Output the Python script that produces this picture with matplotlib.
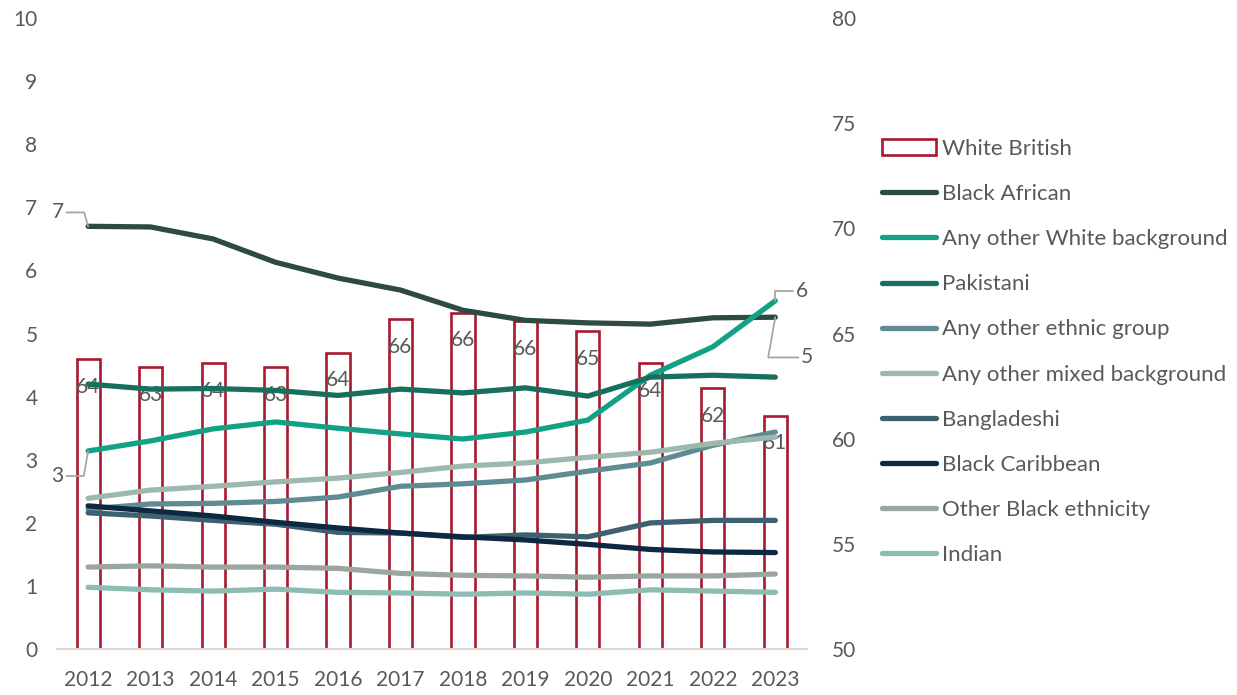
import matplotlib
matplotlib.use("Agg")
import matplotlib.pyplot as plt
from matplotlib.lines import Line2D
from matplotlib.patches import Patch
import numpy as np

plt.rcParams["font.family"] = ["Lato", "DejaVu Sans"]

# =========================
# Data
# =========================
years = ["2012", "2013", "2014", "2015", "2016", "2017",
         "2018", "2019", "2020", "2021", "2022", "2023"]

white_british = [63.8, 63.4, 63.6, 63.4, 64.1, 65.7, 66.0, 65.6, 65.1, 63.6, 62.4, 61.1]

black_african = [6.70, 6.69, 6.50, 6.13, 5.88, 5.69, 5.37, 5.21, 5.17, 5.15, 5.25, 5.26]
other_white = [3.14, 3.30, 3.49, 3.60, 3.50, 3.41, 3.33, 3.44, 3.63, 4.34, 4.79, 5.52]
pakistani = [4.20, 4.12, 4.13, 4.10, 4.02, 4.12, 4.06, 4.14, 4.01, 4.31, 4.34, 4.31]
other_ethnic = [2.22, 2.30, 2.31, 2.34, 2.41, 2.58, 2.62, 2.68, 2.82, 2.95, 3.23, 3.44]
other_mixed = [2.39, 2.52, 2.58, 2.65, 2.71, 2.80, 2.90, 2.95, 3.04, 3.12, 3.26, 3.36]
bangladeshi = [2.16, 2.11, 2.04, 1.98, 1.85, 1.84, 1.77, 1.81, 1.78, 2.00, 2.04, 2.04]
black_caribbean = [2.27, 2.19, 2.11, 2.01, 1.92, 1.84, 1.78, 1.73, 1.66, 1.58, 1.54, 1.53]
other_black = [1.30, 1.32, 1.30, 1.30, 1.28, 1.20, 1.17, 1.16, 1.14, 1.16, 1.16, 1.19]
indian = [0.98, 0.94, 0.92, 0.95, 0.90, 0.89, 0.87, 0.89, 0.87, 0.94, 0.92, 0.90]

series = [
    ("Black African", black_african, "#2F4A43"),
    ("Any other White background", other_white, "#13A186"),
    ("Pakistani", pakistani, "#17705E"),
    ("Any other ethnic group", other_ethnic, "#5F8C93"),
    ("Any other mixed background", other_mixed, "#9DB8AE"),
    ("Bangladeshi", bangladeshi, "#3E6170"),
    ("Black Caribbean", black_caribbean, "#0C2941"),
    ("Other Black ethnicity", other_black, "#9BA6A1"),
    ("Indian", indian, "#8DBDB2"),
]

TEXT = "#595959"
BAR_EDGE = "#A6192E"
LEADER = "#A6A6A6"
FS = 15
LEG_FS = 16

# =========================
# Figure
# =========================
fig = plt.figure(figsize=(12.37, 6.95), dpi=100)
ax = fig.add_axes([0.046, 0.066, 0.606, 0.908])
axb = ax.twinx()

x = np.arange(len(years))

# bars on the secondary (right) scale
axb.bar(x, white_british, width=0.37, facecolor="white", edgecolor=BAR_EDGE,
        linewidth=1.9, zorder=2)
for xi, v in zip(x, white_british):
    axb.annotate(f"{v:.0f}", (xi, v), xytext=(0, -20), textcoords="offset points",
                 ha="center", va="center", fontsize=FS, color=TEXT, zorder=3)
axb.set_ylim(50, 80)
axb.set_yticks(np.arange(50, 81, 5))

# lines on the primary (left) scale, drawn above the bars
ax.set_zorder(axb.get_zorder() + 1)
ax.patch.set_visible(False)
for name, vals, col in series:
    ax.plot(x, vals, color=col, lw=3.8, solid_capstyle="round",
            solid_joinstyle="round")

ax.set_ylim(0, 10)
ax.set_yticks(np.arange(0, 11, 1))
ax.set_xlim(-0.5, len(years) - 0.5)
ax.set_xticks(x)
ax.set_xticklabels(years)

# end-point labels with leader lines
def end_label(vals, idx, dx, dy, angle):
    ax.annotate(f"{vals[idx]:.0f}", (x[idx], vals[idx]), xytext=(dx, dy),
                textcoords="offset points", ha="center", va="center",
                fontsize=FS, color=TEXT,
                arrowprops=dict(arrowstyle="-", color=LEADER, lw=1.3,
                                shrinkA=0, shrinkB=0,
                                connectionstyle=f"angle,angleA=0,angleB={angle},rad=0"))

end_label(black_african, 0, -22, 10, 106)
end_label(other_white, 0, -22, -18, 80)
end_label(other_white, -1, 19, 7, 90)
end_label(black_african, -1, 23, -29, 80)

for a in (ax, axb):
    for s in ("top", "left", "right"):
        a.spines[s].set_visible(False)
    a.spines["bottom"].set_color("#D9D9D9")
    a.spines["bottom"].set_linewidth(1.5)
    a.tick_params(length=0, labelsize=FS, labelcolor=TEXT)
ax.tick_params(axis="y", pad=14)
ax.tick_params(axis="x", pad=15)
axb.tick_params(axis="y", pad=18)

# legend
handles = [Patch(facecolor="white", edgecolor=BAR_EDGE, linewidth=1.9)]
labels = ["White British"]
for name, vals, col in series:
    handles.append(Line2D([], [], color=col, lw=3.8, solid_capstyle="round"))
    labels.append(name)

fig.legend(handles, labels, loc="upper left", bbox_to_anchor=(0.713, 0.800),
           frameon=False, fontsize=LEG_FS, labelcolor=TEXT, handlelength=2.45,
           handletextpad=0.25, labelspacing=1.13, borderpad=0, borderaxespad=0)

fig.savefig("out.png", dpi=100)
